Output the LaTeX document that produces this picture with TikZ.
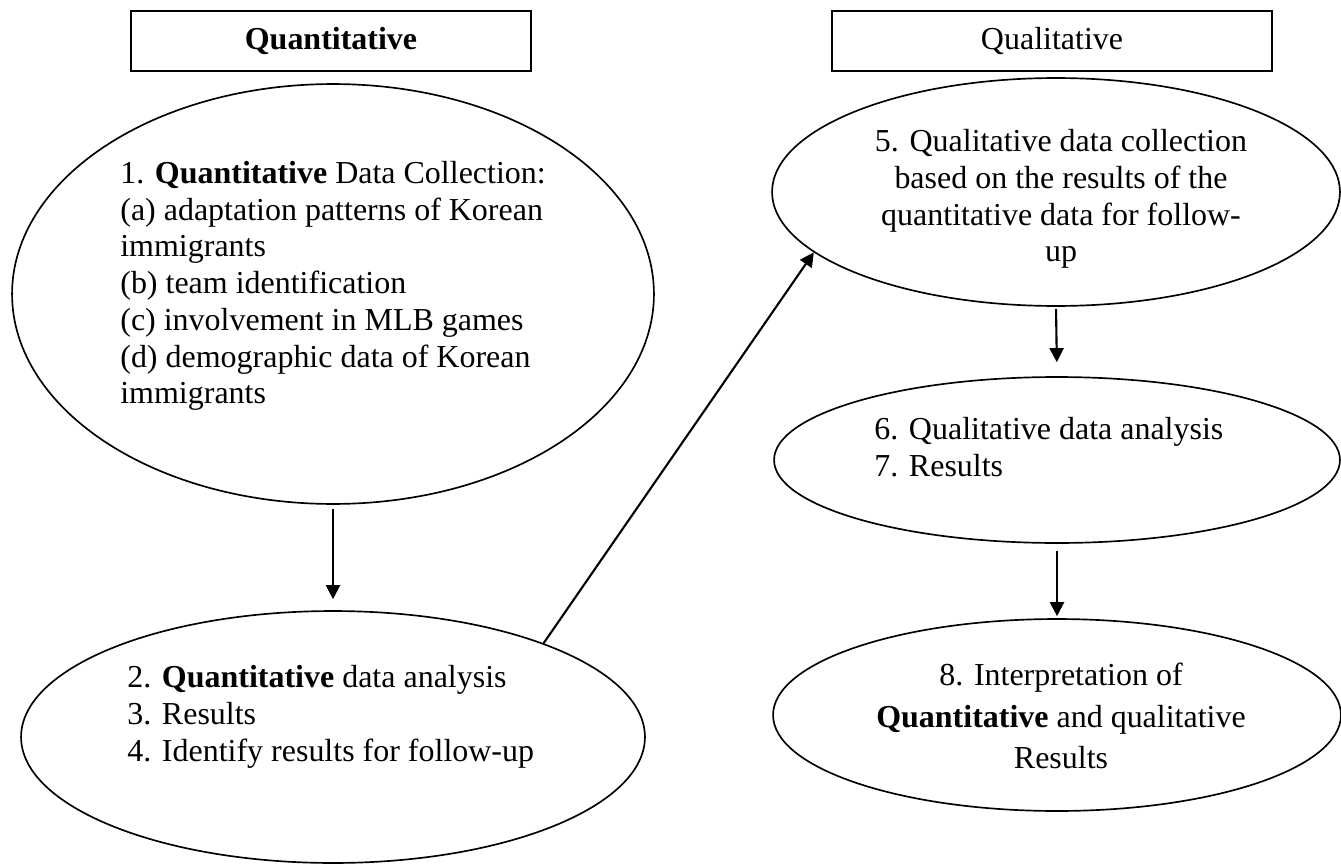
\documentclass[tikz,border=0pt]{standalone}
\usepackage{fontspec}
\setmainfont{Liberation Serif}
\usepackage{tikz}
\usetikzlibrary{shapes.geometric, positioning, arrows.meta}

\begin{document}
\begin{tikzpicture}[x=0.02cm, y=-0.02cm,
          head/.style={rectangle, draw, line width=1.1pt, inner sep=0pt,
                       minimum height=1.2cm,
                       font=\fontsize{18.2}{20.9}\selectfont},
          oval/.style={ellipse, draw, line width=0.95pt, inner sep=0pt},
          txt/.style={inner sep=0pt, font=\fontsize{18.2}{20.9}\selectfont},
          arr/.style={-{Triangle[length=8pt, width=8pt]}, line width=1.2pt}
        ]
        \useasboundingbox (0,0) rectangle (1341,865);
        % Column headers
        \node[head, minimum width=8cm] (quanthead) at (331, 41)
              {\textbf{Quantitative}};
        \node[head, minimum width=8.8cm] (qualhead) at (1052, 41)
              {Qualitative};

        % Ellipses
        \node[oval, minimum width=12.84cm, minimum height=8.4cm]
              (collect) at (333, 294) {};
        \node[oval, minimum width=12.48cm, minimum height=5.04cm]
              (analyse) at (333, 737) {};
        \node[oval, minimum width=11.36cm, minimum height=4.56cm]
              (qualcollect) at (1056, 192) {};
        \node[oval, minimum width=11.32cm, minimum height=3.32cm]
              (qualanalyse) at (1057, 460) {};
        \node[oval, minimum width=11.36cm, minimum height=3.84cm]
              (interpret) at (1057, 715) {};

        % Texts
        \node[txt, anchor=west, align=left] (collecttxt) at (120, 286)
              {1. \textbf{Quantitative} Data Collection:\\
               (a) adaptation patterns of Korean\\
               immigrants\\
               (b) team identification\\
               (c) involvement in MLB games\\
               (d) demographic data of Korean\\
               immigrants};
        \node[txt, anchor=west, align=left] (analysetxt) at (127, 717)
              {2. \textbf{Quantitative} data analysis\\
               3. Results\\
               4. Identify results for follow-up};
        \node[txt, align=center] (qualcollecttxt) at (1061, 199)
              {5. Qualitative data collection\\
               based on the results of the\\
               quantitative data for follow-\\
               up};
        \node[txt, anchor=west, align=left] (qualanalysetxt) at (874, 447)
              {6. Qualitative data analysis\\
               7. Results};
        \node[txt, align=center, font=\fontsize{18.2}{23.6}\selectfont]
              (interprettxt) at (1061, 716)
              {8. Interpretation of\\
               \textbf{Quantitative} and qualitative\\
               Results};

        % Arrows
        \draw[arr, shorten <=0.08cm, shorten >=0.22cm]
              (collect.south -| analyse.north) -- (analyse.north);
        \draw[arr] (analyse.24.7) -- (qualcollect.194);
        \draw[arr, shorten <=0.04cm, shorten >=0.28cm]
              (qualcollect.south) -- (qualanalyse.north);
        \draw[arr, shorten <=0.14cm, shorten >=0.04cm]
              (qualanalyse.south) -- (interpret.north);
      \end{tikzpicture}
\end{document}
